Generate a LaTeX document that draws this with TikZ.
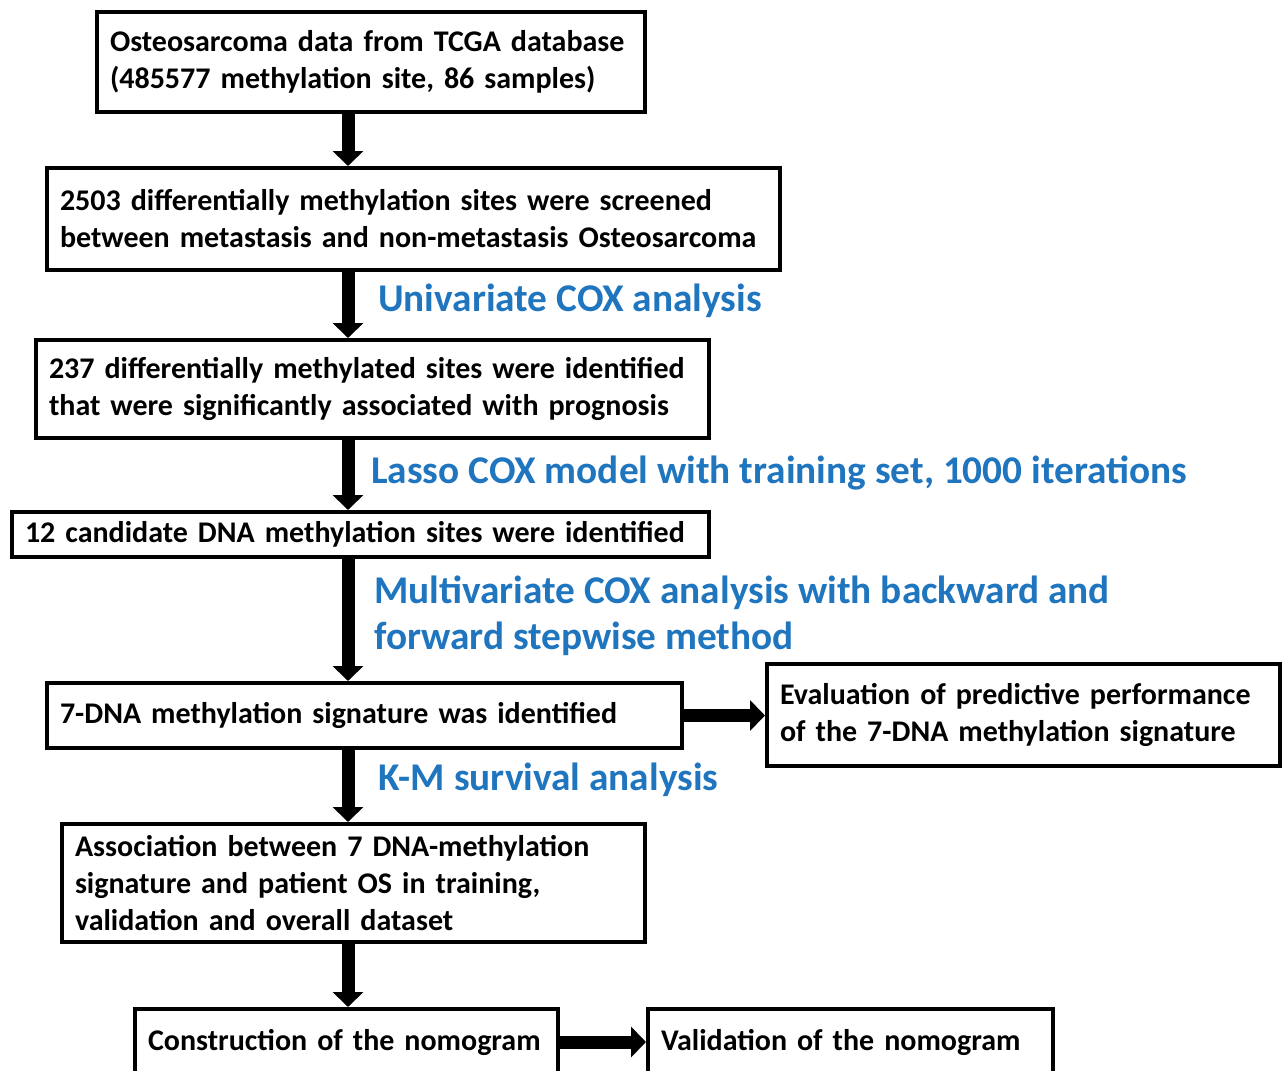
\documentclass[tikz,border=0pt]{standalone}
\usepackage{fontspec}
\setmainfont{Carlito}
\usetikzlibrary{arrows.meta,positioning}
\definecolor{labelblue}{RGB}{31,117,190}

\begin{document}
\begin{tikzpicture}[x=1pt, y=-1pt,
    box/.style 2 args={draw, line width=4pt, text width=#1-26pt, minimum height=#2, inner xsep=13pt, inner ysep=0pt, align=left, font=\bfseries\fontsize{30}{37}\selectfont},
    lbl/.style={anchor=west, align=left, inner sep=0pt, text=labelblue, font=\bfseries\fontsize{39.3}{46}\selectfont},
    bigarrow/.style={line width=13pt, -{Triangle[width=30pt,length=15pt]}}]
    \useasboundingbox (0,0) rectangle (1283,1071);
    \clip (0,0) rectangle (1283,1071);
    \coordinate (spine) at (348,0);
    \node[box={548}{100}] (data) at (371,62) {Osteosarcoma data from TCGA database\\(485577 methylation site, 86 samples)};
    \node[box={733}{102}] (diff) at (413.5,219) {2503 differentially methylation sites were screened\\between metastasis and non-metastasis Osteosarcoma};
    \node[box={673}{98}] (prog) at (372.5,389) {237 differentially methylated sites were identified\\that were significantly associated with prognosis};
    \node[box={697}{45}] (cand) at (360.5,534.5) {12 candidate DNA methylation sites were identified};
    \node[box={635}{65}] (sig) at (364.5,715.5) {7-DNA methylation signature was identified};
    \node[box={513}{102}] (eval) at (1023.5,715) {Evaluation of predictive performance\\of the 7-DNA methylation signature};
    \node[box={583}{118}] (assoc) at (353.5,883) {Association between 7 DNA-methylation\\signature and patient OS in training,\\validation and overall dataset};
    \node[box={423}{66}] (nomo) at (346.5,1042) {Construction of the nomogram};
    \node[box={405}{66}] (valid) at (850.5,1042) {Validation of the nomogram};
    \node[lbl] (uni) at (378,301) {Univariate COX analysis};
    \node[lbl] (lasso) at (371,473) {Lasso COX model with training set, 1000 iterations};
    \node[lbl] (multi) at (374,616) {Multivariate COX analysis with backward and\\forward stepwise method};
    \node[lbl] (km) at (378,780) {K-M survival analysis};
    \draw[bigarrow] (data.south -| spine) -- (diff.north -| spine);
    \draw[bigarrow] (diff.south -| spine) -- (prog.north -| spine);
    \draw[bigarrow] (prog.south -| spine) -- (cand.north -| spine);
    \draw[bigarrow] (cand.south -| spine) -- (sig.north -| spine);
    \draw[bigarrow] (sig.south -| spine) -- (assoc.north -| spine);
    \draw[bigarrow] (assoc.south -| spine) -- (nomo.north -| spine);
    \draw[bigarrow] (sig.east) -- (sig.east -| eval.west);
    \draw[bigarrow] (nomo.east) -- (valid.west);
\end{tikzpicture}
\end{document}
